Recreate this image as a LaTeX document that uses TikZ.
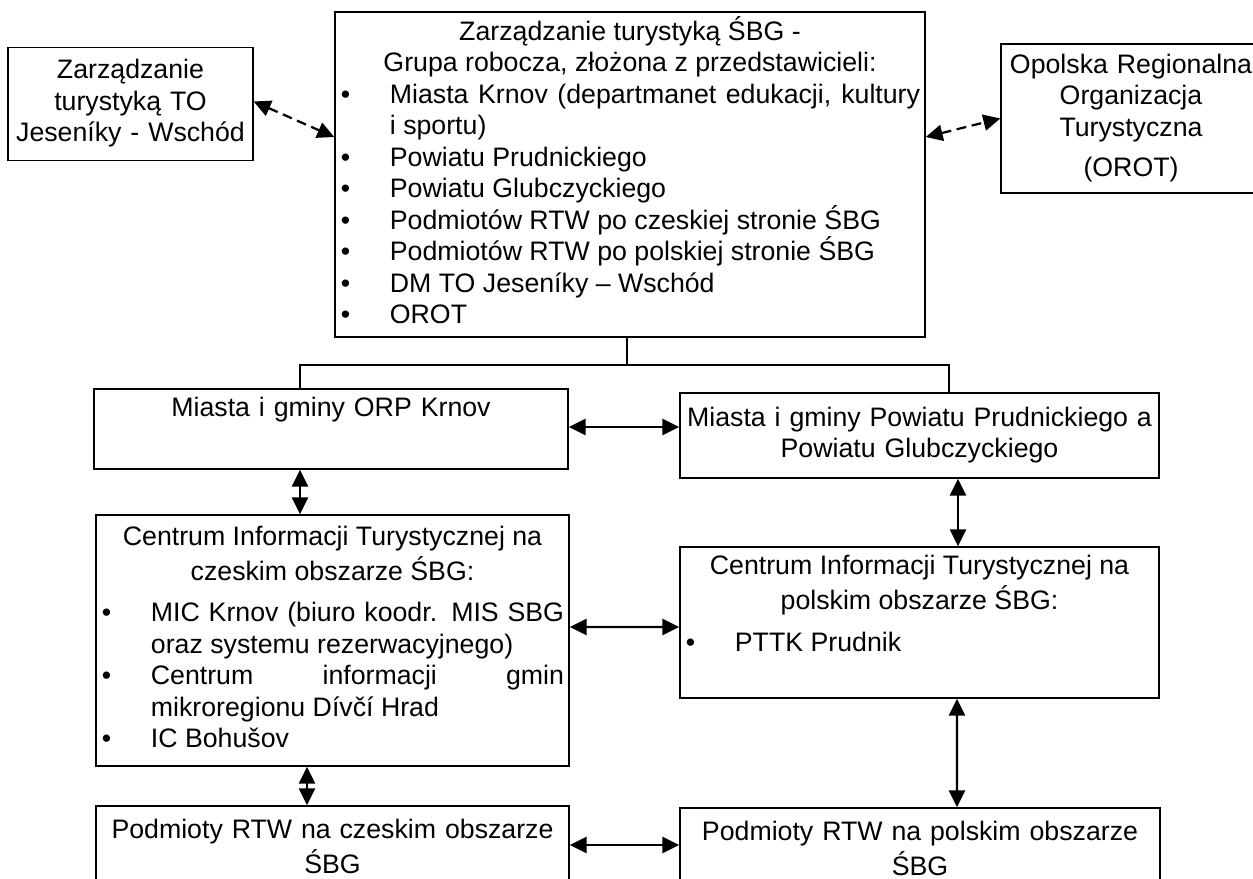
\documentclass[tikz,border=0pt]{standalone}
\usepackage{fontspec}
\setmainfont{Liberation Sans}
\usetikzlibrary{arrows.meta,calc}
\tolerance=10000
\newlength\pxu
\setlength\pxu{0.025cm}
\newcommand\bitem{\par\noindent\hangindent=50\pxu\hangafter=1\makebox[50\pxu][l]{\hspace{1\pxu}\textbullet}}

\begin{document}
\begin{tikzpicture}[x=0.025cm,y=-0.025cm,
    orgbox/.style={draw,line width=1.1pt,inner xsep=3.5pt,inner ysep=0pt,
      font=\fontsize{19pt}{22.4pt}\selectfont,
      execute at begin node=\strut,execute at end node=\strut},
    link/.style={line width=1.6pt,{Triangle[length=12pt,width=11.5pt]}-{Triangle[length=12pt,width=11.5pt]}},
    dashlink/.style={link,dash pattern=on 7pt off 4pt},
    tree/.style={line width=1.1pt}]
    \useasboundingbox (0,0) rectangle (1253,879);
    \node[orgbox,text width=5.875cm,minimum height=2.825cm,align=center] (tour)
      at (130.5,104) {Zarządzanie\\ turystyką TO\\ Jeseníky - Wschód};
    \node[orgbox,text width=14.5cm,minimum height=8.125cm,align=justify] (sbg) at (630,174.5)
      {{\centering Zarządzanie turystyką ŚBG -\\ Grupa robocza, złożona z przedstawicieli:\par}
       \bitem Miasta Krnov (departmanet edukacji, kultury\linebreak i sportu)
       \bitem Powiatu Prudnickiego
       \bitem Powiatu Glubczyckiego
       \bitem Podmiotów RTW po czeskiej stronie ŚBG
       \bitem Podmiotów RTW po polskiej stronie ŚBG
       \bitem DM TO Jeseníky – Wschód
       \bitem OROT};
    \node[orgbox,text width=6.25cm,minimum height=3.725cm,align=center] (orot)
      at (1131,118.5) {Opolska Regionalna\\ Organizacja\\ Turystyczna\\[6pt] (OROT)};
    \node[orgbox,text width=11.6cm,minimum height=2cm,align=center] (orp)
      at (331,429) {Miasta i gminy ORP Krnov\\[4pt] ~};
    \node[orgbox,text width=11.725cm,minimum height=2.125cm,align=center] (pow)
      at (919.5,435.5) {Miasta i gminy Powiatu Prudnickiego a\\ Powiatu Glubczyckiego};
    \node[orgbox,text width=11.575cm,minimum height=6.275cm,align=justify] (citcz) at (332.5,640.5)
      {{\centering Centrum Informacji Turystycznej na\\ czeskim obszarze ŚBG:\par}\vspace{7pt}
       \bitem MIC Krnov (biuro koodr. MIS SBG oraz systemu rezerwacyjnego)
       \bitem Centrum informacji gmin\linebreak mikroregionu Dívčí Hrad
       \bitem IC Bohušov};
    \node[orgbox,text width=11.725cm,minimum height=3.775cm,align=justify] (citpl) at (919.5,622.5)
      {{\centering Centrum Informacji Turystycznej na\\ polskim obszarze ŚBG:\par}\vspace{7pt}
       \bitem PTTK Prudnik\par\mbox{}};
    \node[orgbox,text width=11.575cm,minimum height=2.2cm,align=center] (rtwcz)
      at (332.5,850) {Podmioty RTW na czeskim obszarze\\ ŚBG};
    \node[orgbox,text width=11.75cm,minimum height=2.2cm,align=center] (rtwpl)
      at (920,852) {Podmioty RTW na polskim obszarze\\ ŚBG};

    \draw[dashlink] ($(tour.east)+(0,-2.5)$) -- ($(sbg.west)+(0,-37.5)$);
    \draw[dashlink] ($(sbg.east)+(0,-37.5)$) -- (orot.west);
    \coordinate (split) at ($(sbg.south)+(-3,27)$);
    \draw[tree] ($(sbg.south)+(-3,0)$) -- (split);
    \draw[tree] ($(orp.north)+(-31,0)$) |- (split) -| ($(pow.north)+(29.5,0)$);
    \draw[link] ($(orp.east)+(0,-2)$) -- ($(pow.west)+(0,-8.5)$);
    \draw[link] ($(orp.south)+(-31,0)$) -- ($(citcz.north)+(-32.5,0)$);
    \draw[link] ($(pow.south)+(38.5,0)$) -- ($(citpl.north)+(38.5,0)$);
    \draw[link] ($(citcz.east)+(0,-13.5)$) -- ($(citpl.west)+(0,4.5)$);
    \draw[link] ($(citcz.south)+(-25.5,0)$) -- ($(rtwcz.north)+(-25.5,0)$);
    \draw[link] ($(citpl.south)+(37.5,0)$) -- ($(rtwpl.north)+(37,0)$);
    \draw[link] ($(rtwcz.east)+(0,-5)$) -- ($(rtwpl.west)+(0,-7)$);
\end{tikzpicture}
\end{document}
